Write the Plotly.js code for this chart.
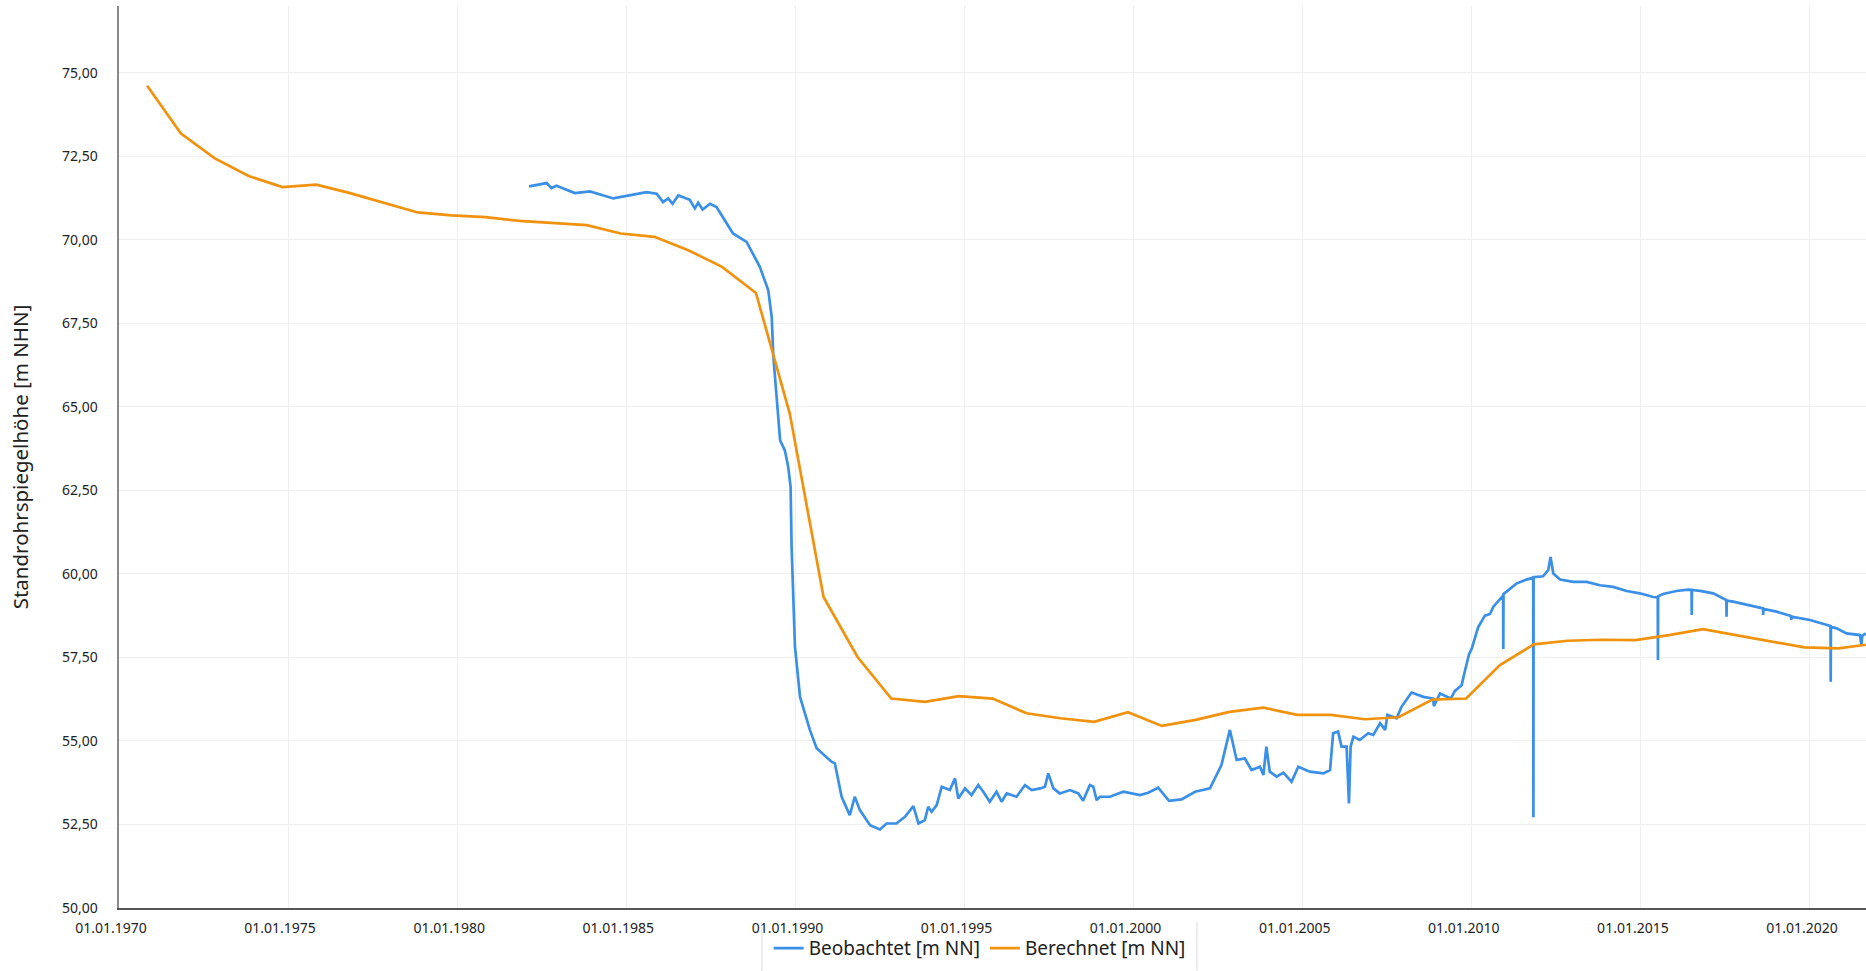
<!DOCTYPE html>
<html>
<head>
<meta charset="utf-8">
<script src="https://cdn.plot.ly/plotly-3.0.1.min.js"></script>
<style>
  html, body { margin: 0; padding: 0; background: #ffffff; }
  #chart { width: 1866px; height: 971px; }
</style>
</head>
<body>
<div id="chart"></div>
<script>
// Beobachtet [m NN] – observed standpipe water level
const obsDates = [
  "1982-02-16","1982-08-25","1982-10-15","1982-12-09","1983-06-24","1983-12-05","1984-08-14",
  "1985-02-09","1985-08-07","1985-11-25","1986-02-02","1986-03-29","1986-05-15","1986-07-16",
  "1986-11-17","1987-01-11","1987-02-16","1987-04-05","1987-06-24","1987-09-02","1988-02-27",
  "1988-07-23","1988-12-13","1989-03-14","1989-04-20","1989-05-08","1989-06-01","1989-07-20",
  "1989-09-09","1989-10-15","1989-11-10","1989-11-21","1989-12-27","1990-02-20","1990-06-06",
  "1990-08-18","1991-01-26","1991-03-03","1991-05-15","1991-08-11","1991-10-04","1991-11-28",
  "1992-03-17","1992-07-01","1992-09-12","1992-12-27","1993-03-29","1993-06-28","1993-08-22",
  "1993-10-30","1993-12-05","1994-01-11","1994-03-07","1994-04-30","1994-07-27","1994-09-20",
  "1994-10-26","1995-01-07","1995-03-18","1995-05-30","1995-07-23","1995-10-01","1995-12-13",
  "1996-02-06","1996-04-01","1996-07-16","1996-10-15","1996-12-27","1997-03-29","1997-05-19",
  "1997-06-24","1997-08-18","1997-10-26","1998-02-13","1998-05-15","1998-07-05","1998-09-16",
  "1998-10-23","1998-11-28","1999-01-04","1999-04-20","1999-09-13","2000-03-10","2000-06-06",
  "2000-09-23","2001-01-18","2001-06-02","2001-10-26","2002-04-05","2002-08-07","2002-11-06",
  "2003-01-18","2003-04-16","2003-06-28","2003-09-27","2003-11-03","2003-12-05","2004-01-11",
  "2004-03-25","2004-06-06","2004-09-02","2004-11-14","2005-03-18","2005-08-11","2005-10-23",
  "2005-11-25","2006-01-18","2006-02-24","2006-04-20","2006-05-15","2006-06-02","2006-07-02",
  "2006-09-09","2006-12-09","2007-02-02","2007-04-16","2007-06-10","2007-07-05","2007-10-12",
  "2007-12-05","2008-03-21","2008-07-27","2008-11-10","2008-11-17","2009-01-22","2009-05-19",
  "2009-07-02","2009-09-13","2009-10-19","2009-12-02","2010-01-01","2010-03-10","2010-05-22",
  "2010-07-16","2010-08-22","2010-10-30","2010-12-05","2010-12-07","2010-12-09","2011-01-11",
  "2011-04-27","2011-08-14","2011-10-26","2011-10-28","2011-10-30","2012-02-09","2012-04-05",
  "2012-04-30","2012-05-30","2012-08-11","2013-01-01","2013-05-26","2013-10-15","2014-03-07",
  "2014-07-31","2014-12-20","2015-05-15","2015-07-02","2015-07-04","2015-07-06","2015-08-29",
  "2016-01-18","2016-05-26","2016-07-01","2016-07-03","2016-07-05","2016-10-01","2017-02-20",
  "2017-07-12","2017-07-14","2017-07-16","2017-09-23","2018-02-16","2018-06-02","2018-08-12",
  "2018-08-14","2018-08-16","2019-01-04","2019-06-10","2019-06-12","2019-06-14","2020-01-01",
  "2020-06-27","2020-08-10","2020-08-12","2020-08-14","2020-10-15","2021-01-30","2021-06-24",
  "2021-07-09","2021-07-19","2021-08-26"
];
const obsValues = [
  71.60,71.70,71.55,71.62,71.40,71.45,71.24,
  71.33,71.43,71.38,71.13,71.24,71.08,71.33,
  71.20,70.94,71.11,70.91,71.08,70.98,70.19,
  69.94,69.19,68.49,67.69,66.50,65.60,64.00,
  63.70,63.21,62.61,60.81,57.82,56.32,55.33,
  54.78,54.38,54.33,53.33,52.78,53.33,52.93,
  52.48,52.35,52.53,52.53,52.73,53.05,52.53,
  52.63,53.03,52.88,53.08,53.63,53.53,53.88,
  53.28,53.58,53.38,53.68,53.48,53.18,53.48,
  53.18,53.43,53.33,53.68,53.53,53.58,53.63,
  54.03,53.58,53.43,53.53,53.43,53.21,53.68,
  53.63,53.23,53.33,53.33,53.48,53.38,53.45,
  53.60,53.21,53.25,53.48,53.58,54.28,55.33,
  54.43,54.48,54.13,54.23,53.98,54.83,54.08,
  53.93,54.05,53.78,54.23,54.08,54.03,54.13,
  55.23,55.28,54.83,54.83,53.13,54.83,55.13,
  55.03,55.23,55.18,55.53,55.33,55.78,55.68,
  56.03,56.45,56.32,56.27,56.04,56.42,56.27,
  56.50,56.67,57.10,57.60,57.77,58.40,58.75,
  58.80,59.02,59.25,59.35,57.75,59.40,59.47,
  59.71,59.83,59.89,52.72,59.90,59.93,60.11,
  60.51,60.01,59.83,59.76,59.76,59.66,59.61,
  59.49,59.42,59.31,59.30,57.42,59.33,59.40,
  59.49,59.53,59.52,58.77,59.52,59.49,59.42,
  59.22,58.72,59.20,59.17,59.07,59.00,58.97,
  58.77,58.95,58.87,58.74,58.62,58.72,58.62,
  58.47,58.44,56.77,58.42,58.37,58.22,58.17,
  57.87,58.15,58.22
];

// Berechnet [m NN] – computed values
const calcDates = [
  "1970-11-01","1971-11-01","1972-11-01","1973-11-01","1974-11-01","1975-11-01","1976-11-01",
  "1977-11-01","1978-11-01","1979-11-01","1980-11-01","1981-11-01","1982-11-01","1983-11-01",
  "1984-11-01","1985-11-01","1986-11-01","1987-11-01","1988-11-01","1989-11-01","1990-11-01",
  "1991-11-01","1992-11-01","1993-11-01","1994-11-01","1995-11-01","1996-11-01","1997-11-01",
  "1998-11-01","1999-11-01","2000-11-01","2001-11-01","2002-11-01","2003-11-01","2004-11-01",
  "2005-11-01","2006-11-01","2007-11-01","2008-11-01","2009-11-01","2010-11-01","2011-11-01",
  "2012-11-01","2013-11-01","2014-11-01","2015-11-01","2016-11-01","2017-11-01","2018-11-01",
  "2019-11-01","2020-11-01","2021-08-26"
];
const calcValues = [
  74.61,73.18,72.44,71.91,71.58,71.65,71.40,
  71.10,70.82,70.73,70.68,70.57,70.51,70.44,
  70.19,70.09,69.69,69.19,68.41,64.80,59.31,
  57.52,56.27,56.17,56.34,56.27,55.83,55.68,
  55.57,55.86,55.45,55.63,55.87,56.00,55.78,
  55.78,55.65,55.71,56.24,56.27,57.27,57.89,
  58.00,58.03,58.02,58.17,58.35,58.17,57.97,
  57.80,57.77,57.88
];

const seriesNames = ["Beobachtet [m NN]", "Berechnet [m NN]"];
const yTitle = "Standrohrspiegelhöhe [m NHN]";

const traces = [
  {
    type: "scatter", mode: "lines", name: seriesNames[0],
    x: obsDates, y: obsValues,
    line: { color: "#3a8fe6", width: 2.7 }
  },
  {
    type: "scatter", mode: "lines", name: seriesNames[1],
    x: calcDates, y: calcValues,
    line: { color: "#f1920f", width: 2.7 }
  }
];

const font = "Noto Sans, Open Sans, DejaVu Sans, sans-serif";

const layout = {
  width: 1866, height: 971,
  margin: { l: 119, r: 0, t: 6, b: 63 },
  paper_bgcolor: "#ffffff",
  plot_bgcolor: "#ffffff",
  separators: ",.",
  font: { family: font, color: "#222222", size: 14 },
  showlegend: true,
  legend: {
    orientation: "h",
    xref: "container", yref: "container",
    x: 0.525, xanchor: "center",
    y: 0.0235, yanchor: "middle",
    bgcolor: "rgba(0,0,0,0)",
    borderwidth: 0,
    itemwidth: 30,
    font: { family: font, size: 19, color: "#222222" }
  },
  xaxis: {
    type: "date",
    range: ["1970-01-01", "2021-08-28"],
    tick0: "1970-01-01",
    dtick: "M60",
    tickformat: "%d.%m.%Y",
    showgrid: true, gridcolor: "#efefef", gridwidth: 1,
    zeroline: false,
    showline: true, linecolor: "#555555", linewidth: 2,
    ticks: "",
    ticklabelstandoff: 6,
    ticklabelshift: -8,
    tickfont: { family: font, size: 14, color: "#222222" },
    automargin: false
  },
  yaxis: {
    range: [50, 77],
    tick0: 50, dtick: 2.5,
    tickformat: ".2f",
    showgrid: true, gridcolor: "#efefef", gridwidth: 1,
    zeroline: false,
    showline: true, linecolor: "#8a8a8a", linewidth: 2.5,
    ticks: "",
    ticklabelstandoff: 16,
    tickfont: { family: font, size: 14, color: "#222222" },
    title: { text: yTitle, standoff: 28, font: { family: font, size: 20.5, color: "#222222" } },
    automargin: false
  },
  shapes: [
    { type: "line", xref: "paper", yref: "paper", x0: 0.368, x1: 0.368, y0: -0.0155, y1: -0.0698,
      line: { color: "#dcdcdc", width: 1 } },
    { type: "line", xref: "paper", yref: "paper", x0: 0.617, x1: 0.617, y0: -0.0155, y1: -0.0698,
      line: { color: "#dcdcdc", width: 1 } }
  ]
};

Plotly.newPlot("chart", traces, layout, { displayModeBar: false, staticPlot: true });
</script>
</body>
</html>
